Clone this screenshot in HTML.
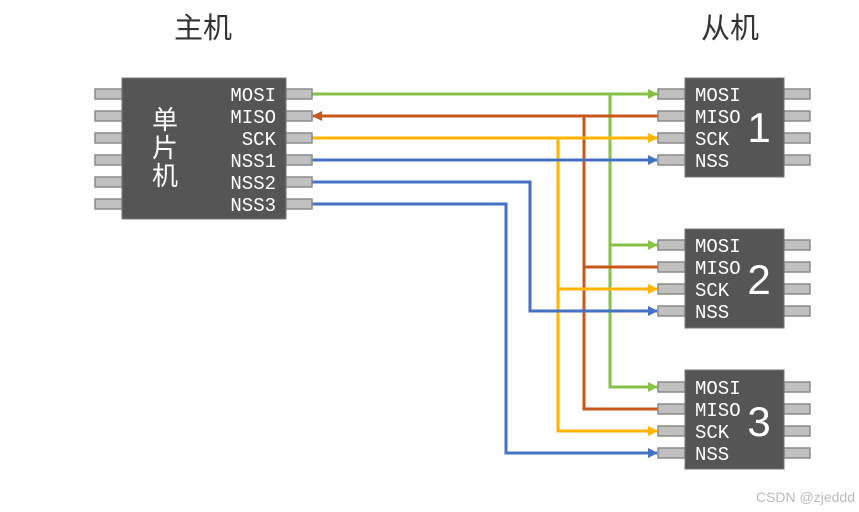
<!DOCTYPE html>
<html><head><meta charset="utf-8"><style>
html,body{margin:0;padding:0;background:#fff;}
svg{display:block}
.lbl{font-family:"Liberation Mono","DejaVu Sans Mono",monospace;font-size:19px;fill:#fff;}
.cj{font-family:"Liberation Sans","Noto Sans CJK SC",sans-serif;}
</style></head><body>
<svg width="859" height="512" viewBox="0 0 859 512" xmlns="http://www.w3.org/2000/svg">
<defs>
<marker id="ag" markerWidth="10" markerHeight="10" refX="9" refY="5" orient="auto" markerUnits="userSpaceOnUse"><path d="M0,0 L10,5 L0,10 z" fill="#86c246"/></marker>
<marker id="ay" markerWidth="10" markerHeight="10" refX="9" refY="5" orient="auto" markerUnits="userSpaceOnUse"><path d="M0,0 L10,5 L0,10 z" fill="#ffb400"/></marker>
<marker id="ab" markerWidth="10" markerHeight="10" refX="9" refY="5" orient="auto" markerUnits="userSpaceOnUse"><path d="M0,0 L10,5 L0,10 z" fill="#4472c4"/></marker>
<marker id="ao" markerWidth="10" markerHeight="10" refX="9" refY="5" orient="auto" markerUnits="userSpaceOnUse"><path d="M0,0 L10,5 L0,10 z" fill="#c8581a"/></marker>
</defs>
<text x="203" y="38" class="cj" font-size="29" fill="#333" text-anchor="middle">主机</text>
<text x="730" y="38" class="cj" font-size="29" fill="#333" text-anchor="middle">从机</text>

<g fill="none" stroke-width="3">
<path d="M312,94 H657" stroke="#86c246" marker-end="url(#ag)"/>
<path d="M610,94 V387 H657" stroke="#86c246" marker-end="url(#ag)"/>
<path d="M610,245 H657" stroke="#86c246" marker-end="url(#ag)"/>
<path d="M658,116 H313" stroke="#c8581a" marker-end="url(#ao)"/>
<path d="M584,116 V409 H658" stroke="#c8581a"/>
<path d="M584,267 H658" stroke="#c8581a"/>
<path d="M312,138 H657" stroke="#ffb400" marker-end="url(#ay)"/>
<path d="M558,138 V431 H657" stroke="#ffb400" marker-end="url(#ay)"/>
<path d="M558,289 H657" stroke="#ffb400" marker-end="url(#ay)"/>
<path d="M312,160 H657" stroke="#4472c4" marker-end="url(#ab)"/>
<path d="M312,182 H530 V311 H657" stroke="#4472c4" marker-end="url(#ab)"/>
<path d="M312,204 H506 V453 H657" stroke="#4472c4" marker-end="url(#ab)"/>
</g>

<g fill="#c0c0c0" stroke="#8a8a8a" stroke-width="1.5">
<rect x="95" y="89" width="27" height="10"/><rect x="95" y="111" width="27" height="10"/><rect x="95" y="133" width="27" height="10"/>
<rect x="95" y="155" width="27" height="10"/><rect x="95" y="177" width="27" height="10"/><rect x="95" y="199" width="27" height="10"/>
<rect x="286" y="89" width="26" height="10"/><rect x="286" y="111" width="26" height="10"/><rect x="286" y="133" width="26" height="10"/>
<rect x="286" y="155" width="26" height="10"/><rect x="286" y="177" width="26" height="10"/><rect x="286" y="199" width="26" height="10"/>
</g>
<rect x="122" y="78" width="164" height="141" fill="#555" stroke="#777"/>
<text x="165" y="129" class="cj" font-size="26" fill="#fff" text-anchor="middle">单</text>
<text x="165" y="157" class="cj" font-size="26" fill="#fff" text-anchor="middle">片</text>
<text x="165" y="185" class="cj" font-size="26" fill="#fff" text-anchor="middle">机</text>
<g class="lbl" text-anchor="end">
<text x="276" y="101">MOSI</text><text x="276" y="123">MISO</text><text x="276" y="145">SCK</text>
<text x="276" y="167">NSS1</text><text x="276" y="189">NSS2</text><text x="276" y="211">NSS3</text>
</g>

<g>
<g fill="#c0c0c0" stroke="#8a8a8a" stroke-width="1.5">
<rect x="658" y="89" width="27" height="10"/><rect x="658" y="111" width="27" height="10"/><rect x="658" y="133" width="27" height="10"/><rect x="658" y="155" width="27" height="10"/>
<rect x="784" y="89" width="26" height="10"/><rect x="784" y="111" width="26" height="10"/><rect x="784" y="133" width="26" height="10"/><rect x="784" y="155" width="26" height="10"/>
</g>
<rect x="685" y="78" width="99" height="99" fill="#555" stroke="#777"/>
<g class="lbl"><text x="695" y="101">MOSI</text><text x="695" y="123">MISO</text><text x="695" y="145">SCK</text><text x="695" y="167">NSS</text></g>
<text x="759" y="142" font-family="Liberation Sans,sans-serif" font-size="42" fill="#fff" text-anchor="middle">1</text>
</g>

<g transform="translate(0,151)">
<g fill="#c0c0c0" stroke="#8a8a8a" stroke-width="1.5">
<rect x="658" y="89" width="27" height="10"/><rect x="658" y="111" width="27" height="10"/><rect x="658" y="133" width="27" height="10"/><rect x="658" y="155" width="27" height="10"/>
<rect x="784" y="89" width="26" height="10"/><rect x="784" y="111" width="26" height="10"/><rect x="784" y="133" width="26" height="10"/><rect x="784" y="155" width="26" height="10"/>
</g>
<rect x="685" y="78" width="99" height="99" fill="#555" stroke="#777"/>
<g class="lbl"><text x="695" y="101">MOSI</text><text x="695" y="123">MISO</text><text x="695" y="145">SCK</text><text x="695" y="167">NSS</text></g>
<text x="759" y="143" font-family="Liberation Sans,sans-serif" font-size="42" fill="#fff" text-anchor="middle">2</text>
</g>

<g transform="translate(0,293)">
<g fill="#c0c0c0" stroke="#8a8a8a" stroke-width="1.5">
<rect x="658" y="89" width="27" height="10"/><rect x="658" y="111" width="27" height="10"/><rect x="658" y="133" width="27" height="10"/><rect x="658" y="155" width="27" height="10"/>
<rect x="784" y="89" width="26" height="10"/><rect x="784" y="111" width="26" height="10"/><rect x="784" y="133" width="26" height="10"/><rect x="784" y="155" width="26" height="10"/>
</g>
<rect x="685" y="77" width="99" height="99" fill="#555" stroke="#777"/>
<g class="lbl"><text x="695" y="101">MOSI</text><text x="695" y="123">MISO</text><text x="695" y="145">SCK</text><text x="695" y="167">NSS</text></g>
<text x="759" y="143" font-family="Liberation Sans,sans-serif" font-size="42" fill="#fff" text-anchor="middle">3</text>
</g>

<text x="855" y="502" font-family="Liberation Sans,sans-serif" font-size="14" fill="#bbb" text-anchor="end">CSDN @zjeddd</text>
</svg>
</body></html>
